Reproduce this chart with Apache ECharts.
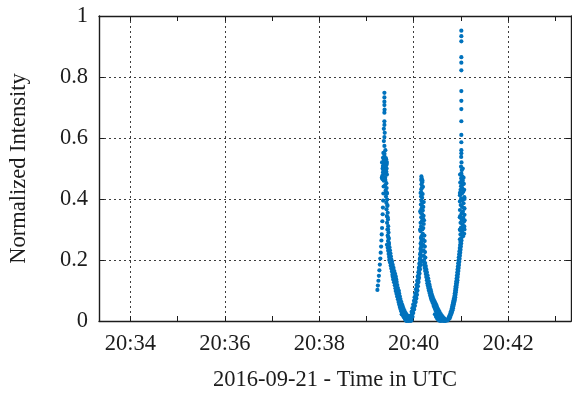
<!DOCTYPE html>
<html>
<head>
<meta charset="utf-8">
<script src="https://cdn.jsdelivr.net/npm/echarts@6/dist/echarts.min.js"></script>
<style>
  html, body { margin: 0; padding: 0; background: #fff; }
  #chart { width: 572px; height: 397px; }
</style>
</head>
<body>
<div id="chart"></div>
<script>
// Time window of the plot (UTC, 2016-09-21)
const xStart = '20:33:20';
const xEnd = '20:43:20';
const passStart = '20:39:00';   // sample times below are seconds after this

// Minute ticks and the labelled (2-minute) ticks with grid lines
const minuteTicks = ['20:34', '20:35', '20:36', '20:37', '20:38', '20:39', '20:40', '20:41', '20:42', '20:43'];
const labelTicks = ['20:34', '20:36', '20:38', '20:40', '20:42'];
const yTicks = [0, 0.2, 0.4, 0.6, 0.8, 1];

// First pass: rise, peak and decay  [seconds after 20:39:00, normalized intensity]
const pass1 = [
  [13.9,0.102],[14.5,0.116],[15.2,0.132],[15.8,0.148],[16.4,0.166],[17.0,0.185],[17.6,0.205],[18.1,0.224],
  [18.6,0.244],[19.0,0.264],[19.4,0.284],[19.8,0.305],[20.2,0.327],[20.6,0.350],[20.9,0.372],[21.2,0.395],
  [21.5,0.418],[21.8,0.441],[22.0,0.460],
  [20.2,0.476],[22.8,0.482],[25.3,0.489],[21.5,0.495],[24.0,0.502],[20.9,0.508],[23.4,0.515],[25.9,0.521],
  [22.1,0.528],[24.6,0.534],[22.8,0.541],[21.5,0.551],[24.0,0.560],[21.0,0.487],[23.8,0.470],[22.4,0.500],
  [25.0,0.510],[21.8,0.520],[23.6,0.530],[22.9,0.548],[19.5,0.470],[26.0,0.480],[20.5,0.500],[25.6,0.500],
  [19.8,0.520],[25.0,0.530],[21.0,0.535],[25.8,0.515],[23.0,0.525],[22.0,0.510],[24.5,0.495],[20.5,0.465],
  [22.8,0.574],[22.1,0.590],[22.8,0.603],[23.2,0.617],[22.1,0.630],[22.8,0.643],[22.8,0.655],[22.8,0.683],
  [23.0,0.693],[22.8,0.708],[22.8,0.719],[22.8,0.733],[22.8,0.748],
  [24.0,0.462],[25.3,0.452],[23.6,0.445],[25.6,0.436],[24.4,0.428],[26.0,0.418],[24.8,0.408],[26.3,0.398],
  [25.2,0.388],[26.6,0.377],[25.5,0.366],[27.0,0.355],[25.9,0.344],[27.3,0.333],[26.2,0.322],[27.6,0.311],
  [26.6,0.300],[28.0,0.290],[27.0,0.280],[28.4,0.270],[27.4,0.262],[28.6,0.256],
  [26.0,0.420],[26.6,0.380],[27.0,0.340],[27.5,0.300],[27.8,0.275],
  [26.0,0.250],[28.4,0.252],[27.0,0.240],[29.2,0.242],[27.6,0.230],[29.8,0.232],[28.2,0.220],[30.4,0.222],
  [28.8,0.210],[31.0,0.212],[29.0,0.200],[31.6,0.202],[30.0,0.205],
  [30.0,0.192],[32.6,0.194],[31.2,0.188],[30.8,0.182],[33.4,0.184],[32.0,0.178],[31.6,0.172],[34.4,0.174],
  [33.0,0.168],[32.4,0.162],[35.4,0.164],[33.8,0.158],[33.0,0.152],[36.4,0.155],[34.6,0.150],[33.4,0.145],
  [37.2,0.146],[35.4,0.142],
  [34.0,0.136],[37.8,0.137],[36.0,0.132],[35.0,0.127],[38.4,0.128],[36.8,0.122],[36.0,0.117],[39.2,0.118],
  [37.6,0.112],[36.8,0.107],[40.0,0.108],[38.4,0.102],[37.2,0.098],[41.2,0.099],
  [39.4,0.094],[38.2,0.089],[41.6,0.090],[40.2,0.085],[39.0,0.080],[42.4,0.081],[41.0,0.076],[40.0,0.071],
  [43.2,0.072],[41.8,0.067],[40.8,0.062],[44.2,0.063],[42.8,0.058],[41.6,0.054],[45.2,0.055],
  [43.8,0.050],[42.4,0.046],[46.2,0.047],[44.6,0.043],[43.2,0.039],[47.2,0.040],[45.6,0.036],[44.2,0.032],
  [48.4,0.033],[46.8,0.029],[45.2,0.026],[49.6,0.027],[48.0,0.024],[50.8,0.022],[44.8,0.022],
  [46.4,0.018],[49.2,0.019],[52.0,0.018],[47.6,0.012],[50.4,0.013],[53.4,0.013],[48.8,0.007],[51.6,0.008],
  [54.6,0.008],[49.6,0.003],[52.4,0.003],[55.4,0.004],[50.8,0.000],[53.2,0.000],[55.8,0.000],[57.2,0.002]
];

// Second pass: narrow peak between the two minima
const pass2 = [
  [57.0,0.010],[58.6,0.014],[56.2,0.018],[57.8,0.022],[59.4,0.026],[57.4,0.030],[59.0,0.034],[60.6,0.038],
  [58.4,0.042],[60.2,0.046],[61.6,0.050],[59.4,0.054],[61.0,0.058],[62.6,0.062],[60.4,0.066],[62.0,0.070],
  [63.4,0.074],[61.2,0.078],[62.8,0.082],[64.2,0.086],[62.0,0.090],[63.6,0.095],[64.8,0.100],[62.8,0.104],
  [64.2,0.109],[65.4,0.114],[63.6,0.118],[65.0,0.123],[66.2,0.128],[64.4,0.132],[65.8,0.137],[66.8,0.142],
  [65.2,0.146],[66.4,0.151],[67.4,0.156],[66.0,0.160],[67.0,0.165],[68.0,0.170],[66.6,0.174],[67.6,0.179],
  [68.6,0.184],[67.2,0.188],[68.2,0.193],[69.0,0.198],[67.8,0.203],[68.6,0.209],[69.4,0.214],[68.2,0.219],
  [69.0,0.225],[69.8,0.230],[68.6,0.236],[69.4,0.242],[70.2,0.248],[68.8,0.254],[69.8,0.260],[70.4,0.266],
  [69.2,0.272],[70.0,0.278],
  [68.6,0.295],[71.0,0.300],[69.4,0.310],[72.2,0.305],[68.8,0.322],[70.6,0.328],[72.8,0.318],[69.6,0.340],
  [71.8,0.336],[68.9,0.355],[70.9,0.350],[72.6,0.345],[69.8,0.368],[71.6,0.362],[69.2,0.382],[70.6,0.378],
  [72.2,0.374],[69.9,0.394],[71.2,0.390],[69.4,0.408],[70.8,0.404],[70.0,0.420],[71.4,0.416],[69.6,0.432],
  [70.6,0.438],[69.9,0.448],[70.8,0.455],[69.6,0.462],[70.2,0.468],[69.8,0.474],[68.2,0.300],[73.2,0.330],
  [68.4,0.360],[72.8,0.390],[68.8,0.420],[71.8,0.440],[71.2,0.460],
  [71.6,0.286],[73.6,0.280],[72.0,0.268],[74.0,0.262],[72.2,0.250],[74.2,0.244],[72.5,0.232],[74.4,0.226],
  [72.8,0.214],[74.8,0.208],[73.2,0.200],
  [72.4,0.194],[74.6,0.190],[73.2,0.184],[75.4,0.180],[74.0,0.174],[76.0,0.170],[74.6,0.164],[76.8,0.160],
  [75.4,0.154],[77.6,0.150],[76.0,0.144],[78.4,0.140],[76.8,0.134],[79.2,0.130],[77.4,0.124],[80.0,0.120],
  [78.0,0.116],[80.6,0.112],[78.6,0.108],[81.4,0.104],[79.4,0.100],[82.2,0.096],[80.2,0.092],[83.0,0.088],
  [81.0,0.084],[84.0,0.080],[81.8,0.076],[85.0,0.073],[82.6,0.070],[86.0,0.067],[83.6,0.064],[87.2,0.061],
  [84.6,0.058],[88.4,0.055],
  [85.4,0.050],[89.4,0.048],[86.4,0.044],[90.6,0.041],[87.4,0.038],[91.8,0.035],[88.4,0.032],[93.0,0.029],
  [89.4,0.026],[94.4,0.023],[87.0,0.022],[90.6,0.020],[95.8,0.018],[88.4,0.014],[92.0,0.014],[97.2,0.013],
  [89.8,0.008],[93.6,0.009],[98.8,0.009],[91.2,0.004],[95.2,0.005],[100.4,0.005],[92.8,0.001],[96.8,0.001],
  [101.8,0.003],[94.6,0.000],[98.6,0.000],[103.2,0.002],[100.4,0.000]
];

// Third pass: rise to the brightest samples
const pass3 = [
  [103.8,0.006],[105.6,0.008],[104.6,0.012],[106.6,0.014],[105.6,0.018],[107.6,0.021],[106.6,0.025],[108.6,0.028],
  [107.4,0.032],[109.4,0.035],[108.2,0.039],[110.0,0.042],[108.8,0.046],[110.6,0.049],[109.4,0.053],[111.2,0.056],
  [110.0,0.060],[111.8,0.063],[110.6,0.067],[112.4,0.070],[111.2,0.074],[112.8,0.078],[111.8,0.082],[113.2,0.086],
  [112.2,0.090],[113.6,0.094],[112.6,0.098],[114.0,0.102],[113.0,0.106],[114.4,0.110],[113.4,0.114],[114.8,0.118],
  [113.8,0.122],[115.2,0.126],[114.2,0.130],[115.6,0.134],[114.6,0.139],[116.0,0.144],[115.0,0.149],[116.4,0.154],
  [115.4,0.159],[116.8,0.164],[115.8,0.169],[117.2,0.174],[116.2,0.179],[117.6,0.184],[116.6,0.189],[118.0,0.194],
  [117.0,0.199],[118.4,0.204],[117.4,0.209],[118.8,0.214],[117.8,0.219],[119.2,0.224],[118.2,0.229],[119.6,0.234],
  [118.6,0.239],[120.0,0.244],[119.0,0.249],[120.4,0.254],[119.4,0.259],[120.8,0.264],
  [118.8,0.268],[120.6,0.272],[122.8,0.278],[119.5,0.284],[124.2,0.286],[121.6,0.292],[119.0,0.298],[123.4,0.302],
  [120.2,0.306],[124.4,0.310],[122.2,0.316],[119.6,0.322],[124.0,0.326],[121.0,0.332],[123.0,0.338],[119.2,0.344],
  [124.6,0.348],[120.8,0.352],[122.6,0.358],[118.8,0.364],[124.4,0.368],[121.6,0.374],[119.8,0.380],[123.4,0.386],
  [118.8,0.392],[122.0,0.396],[120.4,0.402],[124.4,0.406],[118.8,0.412],[121.4,0.418],[123.0,0.424],[119.6,0.430],
  [121.8,0.436],[120.2,0.442],[122.6,0.448],[119.2,0.454],[121.0,0.460],[120.4,0.468],[121.8,0.474],[120.6,0.484],
  [121.2,0.495],[120.2,0.506],[120.8,0.520],[120.4,0.538],
  [124.6,0.300],[124.8,0.330],[124.4,0.370],[124.6,0.400],[124.2,0.430],[118.8,0.300],[118.6,0.340],[118.8,0.420],
  [123.8,0.450],[122.4,0.460],[123.4,0.470],[119.0,0.480],[122.4,0.500],
  [120.6,0.550],[120.6,0.560],[120.6,0.586],[120.6,0.610],[120.6,0.655],[120.6,0.695],[120.6,0.722],[120.6,0.754],
  [120.6,0.822],[120.6,0.847],[120.6,0.865],[120.6,0.917],[120.6,0.934],[120.6,0.952]
];

function toSec(hms) {
  const p = hms.split(':').map(Number);
  return p[0] * 3600 + p[1] * 60 + (p[2] || 0);
}
function fmtHM(sec) {
  const h = Math.floor(sec / 3600);
  const m = Math.round((sec - h * 3600) / 60);
  return h + ':' + String(m).padStart(2, '0');
}

const xMin = toSec(xStart);
const xMax = toSec(xEnd);
const t0 = toSec(passStart);
const minuteVals = minuteTicks.map(toSec);
const labelVals = labelTicks.map(toSec);

const samples = pass1.concat(pass2, pass3).map(d => [t0 + d[0], d[1]]);

const ink = '#1c1c1c';
const font = "'Liberation Serif', 'Times New Roman', serif";
const fontSize = 22.5;
const gridLine = { show: true, lineStyle: { color: '#3c3c3c', width: 1, type: [2, 3] } };
const frame = { show: true, onZero: false, lineStyle: { color: ink, width: 1.4 } };
const tick = { show: true, inside: true, length: 5, lineStyle: { color: ink, width: 1 } };

const chart = echarts.init(document.getElementById('chart'), null, { renderer: 'canvas' });
chart.setOption({
  animation: false,
  backgroundColor: '#fff',
  grid: { left: 97, right: 1, top: 16, bottom: 76, containLabel: false },
  xAxis: [
    {
      type: 'value', position: 'bottom', min: xMin, max: xMax,
      axisLine: frame,
      axisTick: Object.assign({}, tick, { customValues: minuteVals }),
      axisLabel: {
        customValues: labelVals, formatter: v => fmtHM(v), margin: 12,
        color: ink, fontFamily: font, fontSize: fontSize
      },
      splitLine: { show: false },
      name: '2016-09-21 - Time in UTC', nameLocation: 'middle', nameGap: 48,
      nameTextStyle: { color: ink, fontFamily: font, fontSize: fontSize }
    },
    {
      type: 'value', position: 'top', min: xMin, max: xMax,
      axisLine: frame,
      axisTick: Object.assign({}, tick, { customValues: minuteVals }),
      axisLabel: { show: false },
      splitLine: { show: false }
    },
    {
      type: 'value', position: 'bottom', min: xMin, max: xMax,
      axisLine: { show: false, onZero: false },
      axisTick: { show: false, customValues: labelVals },
      axisLabel: { show: false, customValues: labelVals },
      splitLine: gridLine
    }
  ],
  yAxis: [
    {
      type: 'value', position: 'left', min: yTicks[0], max: yTicks[yTicks.length - 1],
      interval: yTicks[1] - yTicks[0],
      axisLine: frame, axisTick: tick,
      axisLabel: { margin: 11, color: ink, fontFamily: font, fontSize: fontSize },
      splitLine: gridLine,
      name: 'Normalized Intensity', nameLocation: 'middle', nameGap: 68,
      nameTextStyle: { color: ink, fontFamily: font, fontSize: fontSize }
    },
    {
      type: 'value', position: 'right', min: yTicks[0], max: yTicks[yTicks.length - 1],
      interval: yTicks[1] - yTicks[0],
      axisLine: frame, axisTick: tick,
      axisLabel: { show: false }, splitLine: { show: false }
    }
  ],
  series: [{
    type: 'scatter',
    xAxisIndex: 0, yAxisIndex: 0,
    data: samples,
    symbol: 'circle',
    symbolSize: 4.2,
    itemStyle: { color: '#0072BD', opacity: 1 },
    z: 5
  }]
});
</script>
</body>
</html>
